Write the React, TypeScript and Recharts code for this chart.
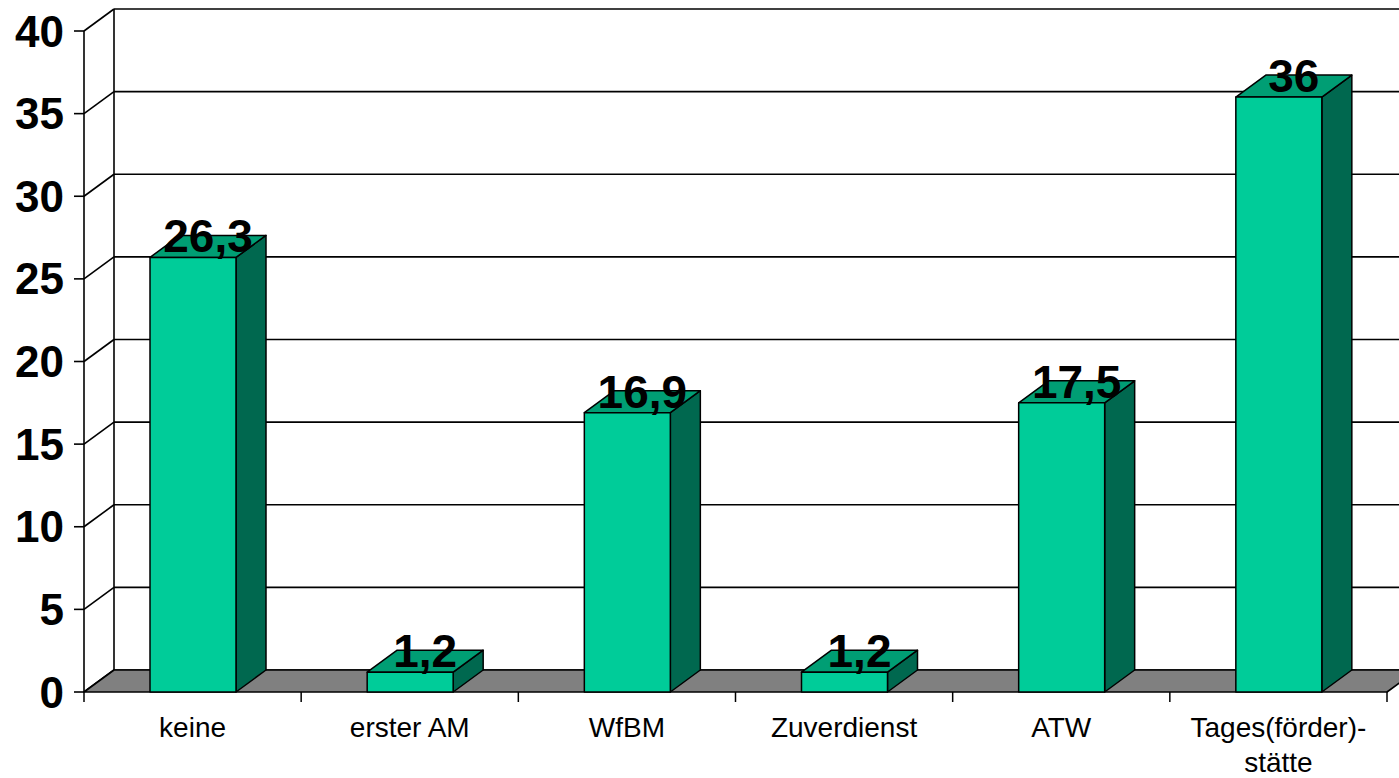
import React from "react";
import {
  BarChart,
  Bar,
  XAxis,
  YAxis,
  CartesianGrid,
  ReferenceArea,
  LabelList,
} from "recharts";

const categories = [
  "keine",
  "erster AM",
  "WfBM",
  "Zuverdienst",
  "ATW",
  "Tages(förder)-\nstätte",
];
const values = [26.3, 1.2, 16.9, 1.2, 17.5, 36];
const yTicks = [0, 5, 10, 15, 20, 25, 30, 35, 40];

const data = categories.map((name, i) => ({ name, value: values[i] }));

// depth offset of the pseudo-3D walls and bars
const DX = 30;
const DY = 22;

const FONT = "'Liberation Sans', Arial, sans-serif";
const FRONT = "#00CC99";
const TOP = "#009E74";
const SIDE = "#00684F";

const Bar3D = (props: any) => {
  const { x, y, width, height } = props;
  if (width == null || height == null) return null;
  return (
    <g stroke="#000" strokeWidth={1.5} strokeLinejoin="round">
      <polygon
        points={`${x + width},${y} ${x + width + DX},${y - DY} ${x + width + DX},${y + height - DY} ${x + width},${y + height}`}
        fill={SIDE}
      />
      <polygon
        points={`${x},${y} ${x + DX},${y - DY} ${x + width + DX},${y - DY} ${x + width},${y}`}
        fill={TOP}
      />
      <rect x={x} y={y} width={width} height={height} fill={FRONT} />
    </g>
  );
};

// gridlines sit on the back wall, joined to the front axis by a short diagonal
const GridLine = (props: any) => {
  const { x1, x2, y1 } = props;
  return (
    <g key={props.key ?? `g-${y1}`} stroke="#000" strokeWidth={1.6}>
      <line x1={x1} y1={y1} x2={x1 + DX} y2={y1 - DY} />
      <line x1={x1 + DX} y1={y1 - DY} x2={x2 + DX + 20} y2={y1 - DY} />
    </g>
  );
};

// floor and left wall edge
const Walls = (props: any) => {
  const { x, y, width, height } = props;
  const bottom = y + height;
  return (
    <g stroke="#000" strokeWidth={1.6}>
      <line x1={x + DX} y1={y - DY} x2={x + DX} y2={bottom - DY} />
      <polygon
        points={`${x},${bottom} ${x + DX},${bottom - DY} ${x + width + DX},${bottom - DY} ${x + width},${bottom}`}
        fill="#808080"
        strokeLinejoin="round"
      />
    </g>
  );
};

const CategoryTick = (props: any) => {
  const { x, y, payload, index, width, visibleTicksCount } = props;
  const band = width / visibleTicksCount;
  const lines = String(payload.value).split("\n");
  return (
    <g>
      <line x1={x - band / 2} y1={y} x2={x - band / 2} y2={y + 10} stroke="#000" strokeWidth={1.5} />
      {index === visibleTicksCount - 1 && (
        <line x1={x + band / 2} y1={y} x2={x + band / 2} y2={y + 10} stroke="#000" strokeWidth={1.5} />
      )}
      <text x={x} y={y + 45} textAnchor="middle" fontFamily={FONT} fontSize={28} fill="#000">
        {lines.map((l, i) => (
          <tspan key={i} x={x} dy={i === 0 ? 0 : 35}>
            {l}
          </tspan>
        ))}
      </text>
    </g>
  );
};

const ValueLabel = (props: any) => {
  const { x, y, width, value } = props;
  return (
    <text
      x={x + width / 2 + DX / 2}
      y={y - 5}
      textAnchor="middle"
      fontFamily={FONT}
      fontWeight="bold"
      fontSize={46}
      fill="#000"
    >
      {String(value).replace(".", ",")}
    </text>
  );
};

export default function App() {
  return (
    <div style={{ position: "absolute", left: 0, top: 0, background: "#fff" }}>
      <BarChart
        width={1399}
        height={778}
        data={data}
        margin={{ top: 31, right: 12, bottom: 0, left: 0 }}
        barSize={86}
      >
        <CartesianGrid horizontal={GridLine} vertical={false} />
        <ReferenceArea y1={0} y2={40} fill="none" shape={Walls} ifOverflow="visible" />
        <XAxis
          dataKey="name"
          axisLine={false}
          tickLine={false}
          tickSize={0}
          tickMargin={0}
          interval={0}
          tick={CategoryTick}
          height={86}
        />
        <YAxis
          domain={[0, 40]}
          ticks={yTicks}
          width={84}
          tickSize={10}
          tickMargin={10}
          axisLine={{ stroke: "#000", strokeWidth: 1.6 }}
          tickLine={{ stroke: "#000", strokeWidth: 1.6 }}
          tick={{ fontFamily: FONT, fontWeight: "bold", fontSize: 44, fill: "#000" }}
        />
        <Bar dataKey="value" shape={Bar3D} isAnimationActive={false}>
          <LabelList dataKey="value" content={ValueLabel} />
        </Bar>
      </BarChart>
    </div>
  );
}
